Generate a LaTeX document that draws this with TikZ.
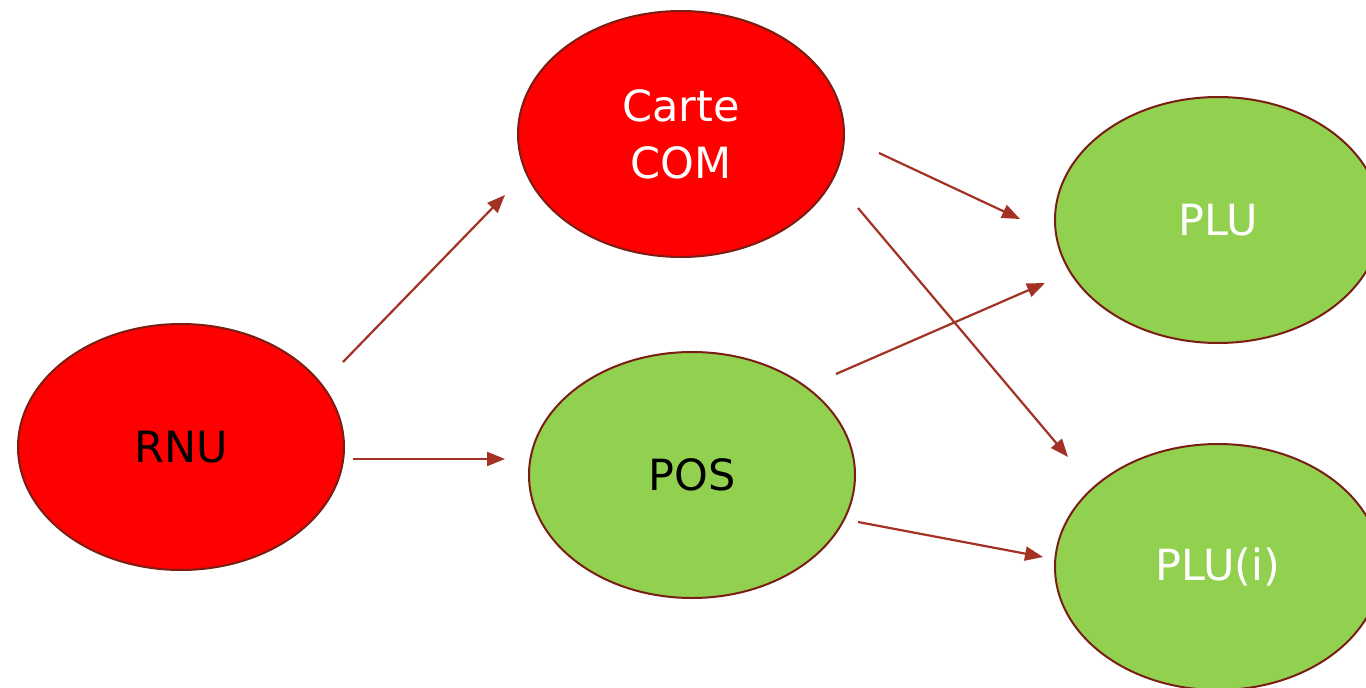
\documentclass[tikz,border=0pt]{standalone}
\usepackage{fontspec}
\setmainfont{DejaVu Sans}
\usetikzlibrary{shapes.geometric,arrows.meta}
\definecolor{rnured}{HTML}{FF0000}
\definecolor{plugreen}{HTML}{92D050}
\definecolor{rim}{HTML}{7A1E14}
\definecolor{arr}{HTML}{A33224}
\tikzset{
  blob/.style={ellipse, draw=rim, line width=2pt, minimum width=326pt, minimum height=246pt, inner sep=0pt, align=center, font=\fontsize{43}{57}\selectfont},
  redblob/.style={blob, fill=rnured},
  greenblob/.style={blob, fill=plugreen},
  link/.style={draw=arr, line width=2.2pt, -{Triangle[length=18pt,width=14pt]}}
}
\begin{document}
\begin{tikzpicture}[x=1pt,y=-1pt]
\path[use as bounding box] (0,0) rectangle (1366,688);
\clip (0,0) rectangle (1366,688);
\fill[white] (0,0) rectangle (1366,688);
\node[redblob, text=black] (rnu) at (181,447) {RNU};
\node[redblob, text=white] (com) at (681,134) {Carte\\COM};
\node[greenblob, text=black] (pos) at (692,475) {POS};
\node[greenblob, text=white] (plu) at (1218,220) {\raisebox{-2pt}{PLU}};
\node[greenblob, text=white] (plui) at (1218,567) {\raisebox{-5pt}{PLU(i)}};
\coordinate (a1) at (343,362); \coordinate (b1) at (505,195);
\coordinate (a2) at (353,459); \coordinate (b2) at (505,459);
\coordinate (a3) at (879,153); \coordinate (b3) at (1020,219);
\coordinate (a4) at (858,208); \coordinate (b4) at (1068,457);
\coordinate (a5) at (836,374); \coordinate (b5) at (1045,283);
\coordinate (a6) at (858,522); \coordinate (b6) at (1043,557);
\draw[link] (a1) -- (b1);
\draw[link] (a2) -- (b2);
\draw[link] (a3) -- (b3);
\draw[link] (a4) -- (b4);
\draw[link] (a5) -- (b5);
\draw[link] (a6) -- (b6);
\end{tikzpicture}
\end{document}
